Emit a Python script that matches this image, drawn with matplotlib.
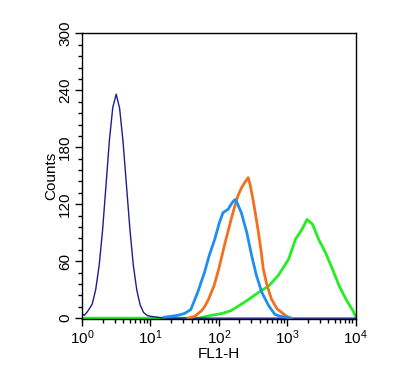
import matplotlib
matplotlib.use("Agg")
import matplotlib.pyplot as plt
import numpy as np
from matplotlib.ticker import MultipleLocator, LogLocator

plt.rcParams['font.family'] = ['Liberation Sans', 'DejaVu Sans']
plt.rcParams['mathtext.fontset'] = 'custom'
plt.rcParams['mathtext.rm'] = 'Liberation Sans'
plt.rcParams['mathtext.it'] = 'Liberation Sans:italic'

# channel positions in decades (log10 of FL1-H) and counts
navy_dec = [0.00, 0.03, 0.06, 0.10, 0.15, 0.20, 0.25, 0.30, 0.35, 0.40, 0.45, 0.50,
            0.55, 0.60, 0.65, 0.70, 0.75, 0.80, 0.85, 0.90, 0.95, 1.00, 1.10, 1.20, 1.30, 4.00]
navy_cnt = [5, 3, 5, 9, 15, 30, 55, 92, 139, 187, 222, 236,
            221, 186, 140, 94, 56, 30, 14, 6, 3, 2, 1, 0, 0, 0]

blue_dec = [1.20, 1.30, 1.40, 1.50, 1.59, 1.69, 1.79, 1.86, 1.94, 2.01, 2.06, 2.10,
            2.14, 2.18, 2.21, 2.24, 2.27, 2.33, 2.41, 2.48, 2.55, 2.63, 2.73, 2.82, 2.90, 2.97, 3.05]
blue_cnt = [1, 2, 3, 5, 9, 27, 48, 66, 83, 101, 111, 113,
            115, 120, 123, 125, 121, 111, 90, 66, 45, 27, 13, 4, 2, 1, 0]

orange_dec = [1.55, 1.65, 1.75, 1.80, 1.85, 1.93, 2.00, 2.08, 2.13, 2.18, 2.23, 2.28,
              2.33, 2.38, 2.43, 2.46, 2.50, 2.54, 2.58, 2.62, 2.65, 2.70, 2.77, 2.85,
              2.92, 2.97, 3.02, 3.06]
orange_cnt = [0, 2, 8, 13, 20, 34, 52, 76, 90, 104, 117, 129,
              137, 143, 148, 140, 125, 108, 90, 70, 52, 36, 20, 10,
              6, 3, 1, 0]

green_dec = [0.00, 1.70, 1.89, 2.05, 2.18, 2.38, 2.58, 2.73, 2.87, 3.02, 3.12, 3.22,
             3.29, 3.37, 3.46, 3.56, 3.66, 3.76, 3.86, 3.96, 4.00]
green_cnt = [0, 0, 3, 5, 8, 17, 27, 34, 45, 62, 83, 94,
             104, 99, 83, 69, 52, 34, 20, 8, 2]

fig = plt.figure(figsize=(4, 3.75), dpi=100)
ax = fig.add_axes([0.205, 0.149, 0.684, 0.762])

ax.plot(10 ** np.array(green_dec), green_cnt, color='#22ee22', lw=2.0)
ax.plot(10 ** np.array(navy_dec), navy_cnt, color='#1c1c96', lw=1.0)
ax.plot(10 ** np.array(orange_dec), orange_cnt, color='#f2701e', lw=2.0)
ax.plot(10 ** np.array(blue_dec), blue_cnt, color='#1e8ef0', lw=2.0)

ax.set_xscale('log')
ax.set_xlim(1, 1e4)
ax.set_ylim(-1, 300)
ax.xaxis.set_major_locator(LogLocator(base=10, numticks=10))
ax.xaxis.set_minor_locator(LogLocator(base=10, subs=np.arange(2, 10), numticks=10))
ax.yaxis.set_major_locator(MultipleLocator(60))
ax.yaxis.set_minor_locator(MultipleLocator(12))

ax.tick_params(which='major', direction='out', length=5, width=1, labelsize=11, pad=2)
ax.tick_params(which='minor', direction='out', length=3, width=1)
for lab in ax.get_yticklabels():
    lab.set_rotation(90)
    lab.set_va('center')

ax.set_xlabel('FL1-H', fontsize=11, labelpad=0)
ax.set_ylabel('Counts', fontsize=11, labelpad=0)
for s in ax.spines.values():
    s.set_linewidth(1.0)

fig.savefig('out.png', dpi=100)
